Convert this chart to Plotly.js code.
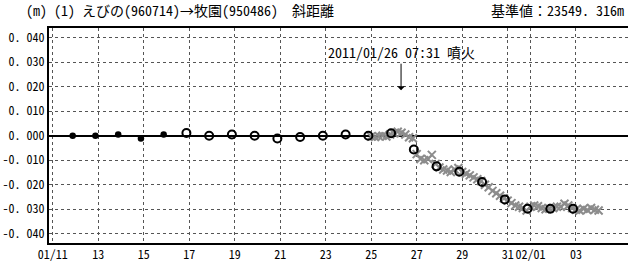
<!DOCTYPE html>
<html><head><meta charset="utf-8">
<script src="https://cdn.plot.ly/plotly-3.0.1.min.js"></script>
<style>html,body{margin:0;padding:0;background:#fff;overflow:hidden}#chart{width:632px;height:261px}</style>
</head><body><div id="chart"></div>
<script>
// daily baseline solutions (filled dots, then open circles)
const filledDates = ['2011-01-11 21:00','2011-01-12 21:00','2011-01-13 21:00','2011-01-14 21:00','2011-01-15 21:00'];
const filledVals  = [0.0000, 0.0000, 0.0005, -0.0011, 0.0005];
const openDates = ['2011-01-16 21:00','2011-01-17 21:00','2011-01-18 21:00','2011-01-19 21:00','2011-01-20 21:00',
  '2011-01-21 21:00','2011-01-22 21:00','2011-01-23 21:00','2011-01-24 21:00','2011-01-25 21:00','2011-01-26 21:00',
  '2011-01-27 21:00','2011-01-28 21:00','2011-01-29 21:00','2011-01-30 21:00','2011-01-31 21:00','2011-02-01 21:00','2011-02-02 21:00'];
const openVals = [0.0011, 0.0000, 0.0005, 0.0000, -0.0011, -0.0005, 0.0000, 0.0005, 0.0000, 0.0010, -0.0056,
  -0.0125, -0.0147, -0.0189, -0.0260, -0.0298, -0.0298, -0.0298];
// 4-hourly solutions (grey crosses), in mm
const crossStart = '2011-01-25 00:00';
const crossVals = [
  -0.3, -0.5, -0.2, 0.0, -0.3, 0.5,
  1.0, 1.6, 1.2, 0.5, -0.6, -1.0,
  -7.5, -9.5, -10.0, -9.5, -7.8, -11.5,
  -13.0, -13.8, -14.2, -14.8, -13.8, -13.2,
  -14.8, -15.5, -16.2, -17.0, -17.8, -18.5,
  -20.0, -21.0, -22.5, -23.5, -24.5, -25.5,
  -26.5, -27.5, -28.5, -29.0, -29.5, -30.5,
  -29.0, -28.5, -28.8, -29.5, -30.0, -29.8,
  -29.5, -29.0, -29.0, -27.8, -28.5, -29.5,
  -30.2, -30.5, -29.8, -30.3, -29.5, -30.2,
  -30.5
];
const crossStepHours = 4;
const xTickVals = ['2011-01-11','2011-01-13','2011-01-15','2011-01-17','2011-01-19','2011-01-21','2011-01-23',
  '2011-01-25','2011-01-27','2011-01-29','2011-01-31','2011-02-01','2011-02-03'];
const xTickText = ['01/11','13','15','17','19','21','23','25','27','29','31','02/01','03'];
const yTickVals = [0.04,0.03,0.02,0.01,0,-0.01,-0.02,-0.03,-0.04];
const yTickText = ['0. 040','0. 030','0. 020','0. 010','0. 000','-0. 010','-0. 020','-0. 030','-0. 040'];

const t0 = new Date(crossStart.replace(' ','T')+':00Z').getTime();
function fmt(ms){const d=new Date(ms);return d.toISOString().slice(0,19).replace('T',' ');}
const crossDates = crossVals.map((v,i)=>fmt(t0 + i*crossStepHours*3600e3));
const crossY = crossVals.map(v=>v/1000);

const font = "'Noto Sans Mono CJK JP', 'DejaVu Sans Mono', 'Noto Sans CJK JP', monospace";
const traces = [
  {x: crossDates, y: crossY, mode:'markers', type:'scatter',
   marker:{symbol:'x-thin', size:8, color:'#8c8c8c', line:{color:'#8c8c8c', width:2}}},
  {x: filledDates, y: filledVals, mode:'markers', type:'scatter',
   marker:{symbol:'circle', size:6.5, color:'#000'}},
  {x: openDates, y: openVals, mode:'markers', type:'scatter',
   marker:{symbol:'circle-open', size:8, color:'#000', line:{color:'#000', width:2}}}
];
const layout = {
  width:632, height:261, showlegend:false,
  margin:{l:49, r:0, t:28, b:18, pad:0},
  paper_bgcolor:'#fff', plot_bgcolor:'#fff',
  font:{family:font, size:13, color:'#000'},
  xaxis:{type:'date', range:['2011-01-10 20:00','2011-02-05 11:13'],
    tickmode:'array', tickvals:xTickVals, ticktext:xTickText, tickangle:0,
    showline:true, mirror:true, linecolor:'#000', linewidth:2, ticks:'',
    showgrid:true, gridcolor:'#555', griddash:'dot', gridwidth:1,
    tickfont:{family:font, size:12}, zeroline:false},
  yaxis:{range:[-0.0438,0.044], tickmode:'array', tickvals:yTickVals, ticktext:yTickText,
    showline:true, linecolor:'#000', linewidth:2, ticks:'', mirror:false,
    showgrid:true, gridcolor:'#555', griddash:'dot', gridwidth:1,
    zeroline:true, zerolinecolor:'#000', zerolinewidth:2,
    tickfont:{family:font, size:12}},
  annotations:[
    {xref:'paper', yref:'paper', x:-0.043, y:1.0, yshift:18, xshift:0, xanchor:'left', yanchor:'middle', showarrow:false,
     text:'(m) (1) えびの(960714)→牧園(950486)　斜距離', font:{family:font, size:14}},
    {xref:'paper', yref:'paper', x:1.0, y:1.0, yshift:18, xshift:-6, xanchor:'right', yanchor:'middle', showarrow:false,
     text:'基準値：23549. 316m', font:{family:font, size:14}},
    {x:'2011-01-26 07:31', y:0.0186, xref:'x', yref:'y', text:'2011/01/26 07:31 噴火',
     showarrow:true, arrowhead:1, arrowsize:1.3, arrowwidth:1, arrowcolor:'#000', ax:0, ay:-38,
     font:{family:font, size:14}}
  ]
};
Plotly.newPlot('chart', traces, layout, {staticPlot:true, displayModeBar:false});
</script></body></html>
